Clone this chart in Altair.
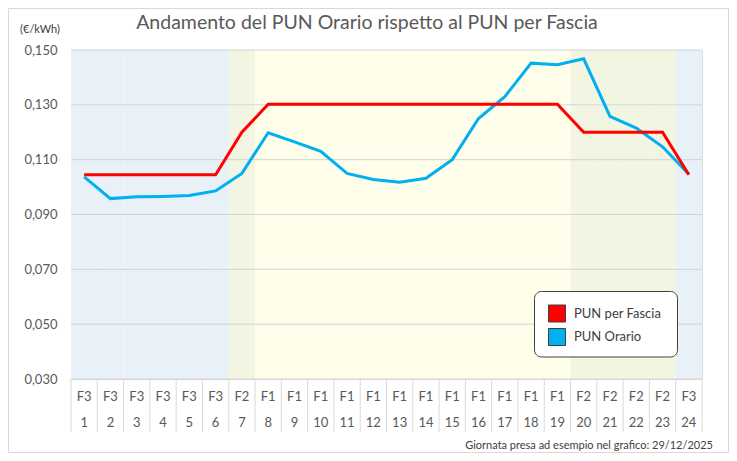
import altair as alt
import pandas as pd

# ---- data ----
hours = list(range(1, 25))
fasce = ["F3"] * 6 + ["F2"] + ["F1"] * 12 + ["F2"] * 4 + ["F3"]
pun_per_fascia = [0.1045] * 6 + [0.1200] + [0.1302] * 12 + [0.1200] * 4 + [0.1045]
pun_orario = [0.1037, 0.0958, 0.0965, 0.0966, 0.0969, 0.0986, 0.1050, 0.1198,
              0.1165, 0.1130, 0.1050, 0.1028, 0.1018, 0.1032, 0.1100, 0.1250,
              0.1330, 0.1452, 0.1446, 0.1468, 0.1258, 0.1215, 0.1147, 0.1047]
series_names = ["PUN per Fascia", "PUN Orario"]
series_colors = ["#FF0000", "#00B0F0"]
fascia_names = ["F1", "F2", "F3"]
fascia_bg = ["#FFFEEB", "#F1F5E2", "#E8F0F8"]
y_ticks = [0.030, 0.050, 0.070, 0.090, 0.110, 0.130, 0.150]
title_text = "Andamento del PUN Orario rispetto al PUN per Fascia"
unit_text = "(€/kWh)"
note_text = "Giornata presa ad esempio nel grafico: 29/12/2025"

FONT = "Lato"
W, H = 631, 329

hours_df = pd.DataFrame({"ora": hours, "fascia": fasce})
lines_df = pd.concat([
    pd.DataFrame({"ora": hours, "valore": pun_per_fascia, "serie": series_names[0]}),
    pd.DataFrame({"ora": hours, "valore": pun_orario, "serie": series_names[1]}),
])
ticks_df = pd.DataFrame({"v": y_ticks})
bounds_df = pd.DataFrame({"b": [h - 0.5 for h in hours] + [hours[-1] + 0.5]})

xscale = alt.Scale(domain=[0.5, 24.5], nice=False, zero=False)
yscale = alt.Scale(domain=[0.030, 0.150], nice=False, zero=False)
yaxis = alt.Axis(
    values=y_ticks, grid=False, domain=False, ticks=False, title=None,
    labelExpr="replace(format(datum.value, '.3f'), '.', ',')",
    labelPadding=14, labelFontSize=13, labelColor="#595959", labelFont=FONT)

# background bands
bg = alt.Chart(hours_df).transform_calculate(
    x0="datum.ora - 0.5", x1="datum.ora + 0.5", y0="0.030", y1="0.150"
).mark_rect().encode(
    x=alt.X("x0:Q", scale=xscale, axis=None),
    x2="x1:Q",
    y=alt.Y("y0:Q", scale=yscale, axis=yaxis),
    y2="y1:Q",
    fill=alt.Fill("fascia:N", scale=alt.Scale(domain=fascia_names, range=fascia_bg), legend=None),
)

grid = alt.Chart(ticks_df).mark_rule(color="#D4D4D4", strokeWidth=1).encode(
    y=alt.Y("v:Q", scale=yscale, axis=yaxis),
    x=alt.value(0), x2=alt.value(W),
)

stroke_enc = alt.Stroke("serie:N", scale=alt.Scale(domain=series_names, range=series_colors),
                        legend=None)

line_blue = alt.Chart(lines_df).transform_filter(
    alt.datum.serie == series_names[1]
).mark_line(strokeWidth=3).encode(
    x=alt.X("ora:Q", scale=xscale, axis=None),
    y=alt.Y("valore:Q", scale=yscale, axis=yaxis),
    stroke=stroke_enc,
)
line_red = alt.Chart(lines_df).transform_filter(
    alt.datum.serie == series_names[0]
).mark_line(strokeWidth=3).encode(
    x=alt.X("ora:Q", scale=xscale, axis=None),
    y=alt.Y("valore:Q", scale=yscale, axis=yaxis),
    stroke=stroke_enc,
)

# x "table" axis
seps = alt.Chart(bounds_df).mark_rule(color="#D9D9D9", strokeWidth=1).encode(
    x=alt.X("b:Q", scale=xscale, axis=None),
    y=alt.value(H), y2=alt.value(H + 53),
)
lab_f = alt.Chart(hours_df).mark_text(font=FONT, fontSize=13, color="#595959").encode(
    x=alt.X("ora:Q", scale=xscale, axis=None), y=alt.value(H + 18), text="fascia:N")
lab_h = alt.Chart(hours_df).mark_text(font=FONT, fontSize=13, color="#595959").encode(
    x=alt.X("ora:Q", scale=xscale, axis=None), y=alt.value(H + 44), text="ora:N")

# legend (drawn)
one = pd.DataFrame({"t": [0]})
leg_box = alt.Chart(one).mark_rect(
    fill="white", stroke="#404040", strokeWidth=1, cornerRadius=7
).encode(x=alt.value(463.5), x2=alt.value(606.5), y=alt.value(241.5), y2=alt.value(307))
leg_items = []
for i, (name, col) in enumerate(zip(series_names, series_colors)):
    yc = 263.5 + i * 23.5
    leg_items.append(alt.Chart(one).mark_rect(stroke="#404040", strokeWidth=1).encode(
        x=alt.value(477.5), x2=alt.value(494.5), y=alt.value(yc - 8.5), y2=alt.value(yc + 8.5),
        fill=alt.value(col)))
    leg_items.append(alt.Chart(pd.DataFrame({"t": [name]})).mark_text(
        font=FONT, fontSize=13, color="#404040", align="left", baseline="middle"
    ).encode(text="t:N", x=alt.value(503), y=alt.value(yc)))

title = alt.Chart(pd.DataFrame({"t": [title_text]})).mark_text(
    font=FONT, fontSize=19.5, color="#595959", align="center", baseline="middle"
).encode(text="t:N", x=alt.value(296), y=alt.value(-27))
unit = alt.Chart(pd.DataFrame({"t": [unit_text]})).mark_text(
    font=FONT, fontSize=11, color="#404040", align="center", baseline="middle"
).encode(text="t:N", x=alt.value(-31), y=alt.value(-20))
note = alt.Chart(pd.DataFrame({"t": [note_text]})).mark_text(
    font=FONT, fontSize=11, color="#404040", align="right", baseline="middle"
).encode(text="t:N", x=alt.value(642), y=alt.value(396))
border = alt.Chart(one).mark_rect(
    fill=None, stroke="#D9D9D9", strokeWidth=1
).encode(x=alt.value(-62.5), x2=alt.value(657.5), y=alt.value(-41.5), y2=alt.value(402.5))

chart = alt.layer(
    bg, grid, seps, lab_f, lab_h, line_blue, line_red, leg_box, *leg_items,
    title, unit, note, border
).properties(
    width=W, height=H,
    autosize=alt.AutoSizeParams(type="none"),
    padding={"left": 63, "top": 42, "right": 27, "bottom": 74},
).configure_view(stroke=None).configure(font=FONT, background="white")

chart.save("out.html", embed_options={"renderer": "svg", "actions": False})
